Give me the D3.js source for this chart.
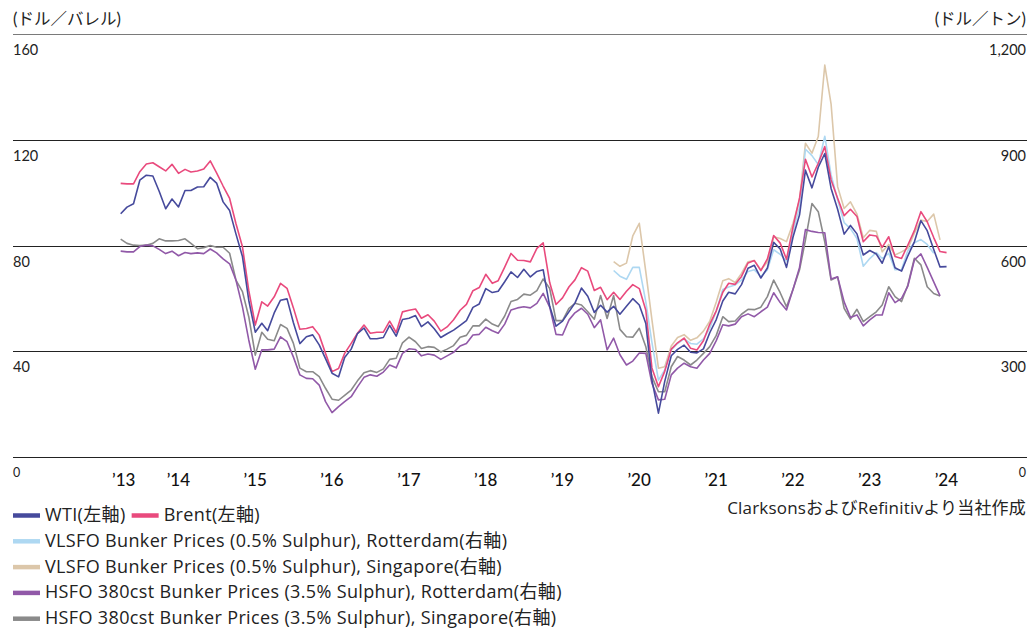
<!DOCTYPE html>
<html>
<head>
<meta charset="utf-8">
<script src="https://cdn.jsdelivr.net/npm/d3@7"></script>
<style>
  body { margin: 0; background: #fff; }
  svg text { font-family: Lato, "Noto Sans CJK JP", sans-serif; fill: #222; }
  svg text.wide { font-family: "Open Sans", "Noto Sans CJK JP", sans-serif; }
</style>
</head>
<body>
<svg id="chart" width="1029" height="630"></svg>
<script>
// Monthly averages. Crude oil in USD/barrel (left axis), bunker fuel in USD/tonne (right axis).
const oilStart = "2013-04";
const wti = [
  92.0, 94.5, 95.8, 104.7, 106.6, 106.3, 100.5, 93.9, 97.6,
  94.6, 100.8, 100.8, 102.1, 102.2, 105.8, 103.6, 96.5, 93.2, 84.4, 75.8, 59.3,
  47.2, 50.6, 47.8, 54.5, 59.3, 59.8, 50.9, 42.9, 45.5, 46.2, 42.4, 37.2,
  31.7, 30.3, 37.6, 40.8, 46.7, 48.8, 44.7, 44.7, 45.2, 49.8, 45.7, 52.0,
  52.5, 53.5, 49.3, 51.1, 48.5, 45.2, 46.6, 48.0, 49.8, 51.6, 56.6, 57.9,
  63.7, 62.2, 62.7, 66.3, 70.0, 67.9, 71.0, 68.1, 70.2, 70.8, 57.0, 49.5,
  51.4, 55.0, 58.2, 63.9, 60.8, 54.7, 57.4, 54.8, 57.0, 54.0, 57.0, 59.9,
  57.5, 50.5, 29.2, 16.6, 28.6, 38.3, 40.7, 42.3, 39.6, 39.4, 40.9, 47.0,
  52.0, 59.0, 62.3, 61.7, 65.2, 71.4, 72.5, 67.7, 71.5, 81.2, 78.7, 71.7,
  83.2, 91.6, 108.5, 101.8, 109.6, 114.8, 101.6, 93.7, 84.3, 87.6, 84.4, 76.4,
  78.1, 76.8, 73.3, 79.5, 71.6, 70.3, 76.1, 81.4, 89.4, 85.6, 78.5, 71.9,
  72.0
];
const brent = [
  103.5, 103.3, 103.3, 107.9, 110.8, 111.3, 109.8, 108.2, 110.7,
  107.3, 108.8, 107.8, 108.2, 108.9, 112.0, 107.5, 102.5, 97.8, 88.3, 79.5, 63.0,
  49.9, 58.7, 57.1, 60.6, 65.7, 63.8, 56.5, 48.3, 48.6, 49.3, 46.1, 39.2,
  32.3, 33.5, 39.2, 43.0, 46.8, 49.9, 46.8, 47.2, 47.2, 51.4, 47.1, 54.9,
  55.5, 56.0, 52.5, 53.8, 51.4, 47.6, 49.2, 51.9, 55.5, 57.7, 62.9, 64.1,
  69.1, 65.7, 66.7, 71.8, 77.0, 74.4, 74.3, 73.8, 78.9, 81.0, 66.0, 57.7,
  60.2, 64.4, 67.0, 71.6, 70.3, 63.0, 64.2, 59.5, 62.3, 59.6, 62.7, 65.2,
  63.7, 55.5, 33.7, 26.6, 32.4, 40.8, 43.2, 45.0, 41.1, 40.5, 44.0, 50.2,
  55.3, 62.3, 65.7, 65.3, 68.3, 73.4, 74.3, 70.5, 74.9, 83.8, 80.9, 74.8,
  87.1, 98.0, 112.6, 105.9, 111.1, 117.4, 104.8, 97.9, 91.3, 93.7, 91.0, 81.4,
  84.0, 83.6, 79.3, 83.3, 75.8, 75.1, 80.2, 85.6, 92.8, 89.0, 83.0, 77.7,
  77.3
];

const hsfoStart = "2013-04";
const hsfoRotterdam = [
  584, 582, 582, 597, 601, 599, 589, 577, 584,
  571, 580, 577, 579, 577, 590, 579, 562, 548, 502, 426, 332,
  249, 304, 304, 306, 341, 327, 284, 233, 223, 222, 204, 157,
  126, 143, 157, 171, 199, 226, 233, 229, 241, 261, 253, 294,
  307, 305, 287, 292, 289, 277, 287, 297, 315, 322, 346, 348,
  368, 358, 351, 377, 417, 423, 426, 423, 436, 464, 425, 348,
  346, 389, 409, 422, 405, 367, 389, 304, 337, 290, 261, 272,
  295, 294, 209, 162, 164, 233, 252, 266, 256, 252, 275, 294,
  330, 375, 372, 377, 398, 406, 398, 412, 425, 466, 438, 417,
  476, 538, 645, 640, 637, 636, 505, 511, 440, 396, 403, 372,
  389, 403, 403, 466, 438, 450, 485, 559, 576, 538, 497, 457
];
const hsfoSingapore = [
  618, 606, 601, 600, 601, 606, 619, 613, 613,
  614, 619, 606, 591, 594, 600, 595, 595, 578, 502, 469, 398,
  289, 354, 334, 330, 376, 365, 323, 252, 242, 242, 228, 195,
  164, 161, 175, 190, 216, 239, 245, 240, 250, 277, 280, 324,
  340, 327, 308, 313, 311, 298, 306, 316, 340, 345, 372, 372,
  391, 377, 370, 400, 441, 447, 462, 459, 472, 505, 478, 387,
  387, 422, 436, 431, 412, 391, 458, 393, 458, 362, 341, 340,
  365, 313, 228, 185, 185, 256, 285, 275, 261, 275, 294, 313,
  345, 398, 384, 386, 405, 419, 418, 425, 455, 502, 466, 426,
  475, 531, 615, 719, 696, 610, 502, 511, 422, 391, 419, 384,
  398, 412, 431, 483, 455, 441, 488, 564, 545, 483, 464, 457
];

const vlsfoStart = "2019-09";
const vlsfoRotterdam = [
  529, 513, 504, 538,
  538, 440, 325, 218, 247, 304, 322, 335, 322, 320, 335, 365,
  415, 475, 482, 488, 502, 526, 531, 512, 531, 588, 575, 556,
  640, 710, 873, 855, 830, 910, 800, 730, 665, 648, 620, 541,
  563, 580, 563, 578, 531, 532, 585, 608, 617, 603, 578
];
const vlsfoSingapore = [
  554, 541, 550, 627,
  663, 525, 390, 252, 256, 315, 339, 347, 331, 338, 357, 385,
  440, 500, 506, 495, 521, 554, 557, 531, 553, 625, 620, 611,
  663, 729, 890, 862, 909, 1112, 1001, 767, 705, 724, 689, 622,
  643, 640, 582, 603, 573, 582, 592, 635, 672, 668, 689, 616
];

const leftTicks = [0, 40, 80, 120, 160];
const rightTicks = [0, 300, 600, 900, 1200];
const yearTicks = ["2013", "2014", "2015", "2016", "2017", "2018", "2019", "2020", "2021", "2022", "2023", "2024"];

// Series definitions (order = drawing order, bottom first)
const series = [
  { name: "VLSFO Bunker Prices (0.5% Sulphur), Singapore(右軸)", start: vlsfoStart, values: vlsfoSingapore, axis: "right", color: "#dcc7aa" },
  { name: "VLSFO Bunker Prices (0.5% Sulphur), Rotterdam(右軸)", start: vlsfoStart, values: vlsfoRotterdam, axis: "right", color: "#aed8f2" },
  { name: "HSFO 380cst Bunker Prices (3.5% Sulphur), Singapore(右軸)", start: hsfoStart, values: hsfoSingapore, axis: "right", color: "#8a8a8a" },
  { name: "HSFO 380cst Bunker Prices (3.5% Sulphur), Rotterdam(右軸)", start: hsfoStart, values: hsfoRotterdam, axis: "right", color: "#9159a8" },
  { name: "Brent(左軸)", start: oilStart, values: brent, axis: "left", color: "#e94a7d" },
  { name: "WTI(左軸)", start: oilStart, values: wti, axis: "left", color: "#464a9c" }
];

const svg = d3.select("#chart");

const x = d3.scaleTime()
  .domain([new Date(2013, 0, 1), new Date(2024, 0, 1)])
  .range([98.6, 943.4]);
const yLeft = d3.scaleLinear().domain([0, 160]).range([457, 34]);
const yRight = d3.scaleLinear().domain([0, 1200]).range([457, 34]);

function monthly(start, values) {
  const [yy, mm] = start.split("-").map(Number);
  return values.map((v, i) => ({ date: new Date(yy, mm - 1 + i, 16), value: v }));
}

// Horizontal grid lines
const grid = svg.append("g");
leftTicks.forEach(t => {
  grid.append("line")
    .attr("x1", 13).attr("x2", 1027)
    .attr("y1", Math.round(yLeft(t)) + 0.5).attr("y2", Math.round(yLeft(t)) + 0.5)
    .attr("stroke", t === 160 ? "#7a7a7a" : "#222")
    .attr("stroke-width", 1);
});

// Axis titles
svg.append("text").attr("x", 13).attr("y", 25).attr("font-size", 16.5).text("(ドル／バレル)");
svg.append("text").attr("x", 1026).attr("y", 25).attr("font-size", 16.5).attr("text-anchor", "end").text("(ドル／トン)");

// Left / right tick labels
const fmtR = d3.format(",");
leftTicks.forEach(t => {
  const isZero = t === 0;
  svg.append("text")
    .attr("x", 13)
    .attr("y", isZero ? 477 : yLeft(t) + 21)
    .attr("font-size", isZero ? 12.5 : 14.5)
    .text(t);
});
rightTicks.forEach(t => {
  const isZero = t === 0;
  svg.append("text")
    .attr("x", 1026)
    .attr("y", isZero ? 477 : yRight(t) + 21)
    .attr("text-anchor", "end")
    .attr("font-size", isZero ? 12.5 : 14.5)
    .text(fmtR(t));
});

// Year labels
const firstDate = monthly(oilStart, [0])[0].date;
yearTicks.forEach((yr, i) => {
  const d = i === 0 ? firstDate : new Date(+yr, 0, 1);
  svg.append("text")
    .attr("x", x(d) + 3)
    .attr("y", 486)
    .attr("text-anchor", "middle")
    .attr("font-size", 17)
    .attr("font-weight", 500)
    .style("fill", "#111")
    .text("’" + yr.slice(2));
});

// Lines
series.forEach(s => {
  const y = s.axis === "left" ? yLeft : yRight;
  const line = d3.line().x(d => x(d.date)).y(d => y(d.value));
  svg.append("path")
    .datum(monthly(s.start, s.values))
    .attr("fill", "none")
    .attr("stroke", s.color)
    .attr("stroke-width", 1.6)
    .attr("stroke-linejoin", "round")
    .attr("d", line);
});

// Legend
const byName = Object.fromEntries(series.map(s => [s.name, s]));
const legendRows = [
  ["WTI(左軸)", "Brent(左軸)"],
  ["VLSFO Bunker Prices (0.5% Sulphur), Rotterdam(右軸)"],
  ["VLSFO Bunker Prices (0.5% Sulphur), Singapore(右軸)"],
  ["HSFO 380cst Bunker Prices (3.5% Sulphur), Rotterdam(右軸)"],
  ["HSFO 380cst Bunker Prices (3.5% Sulphur), Singapore(右軸)"]
];
const legend = svg.append("g");
legendRows.forEach((row, r) => {
  const base = 521 + r * 25.8;
  let cx = 13;
  row.forEach(name => {
    legend.append("line")
      .attr("x1", cx).attr("x2", cx + 27)
      .attr("y1", base - 5.5).attr("y2", base - 5.5)
      .attr("stroke", byName[name].color)
      .attr("stroke-width", 4.5);
    const t = legend.append("text")
      .attr("class", "wide")
      .attr("x", cx + 32).attr("y", base)
      .attr("font-size", 18)
      .attr("letter-spacing", 0.35)
      .text(name);
    cx += 32 + t.node().getComputedTextLength() + 6;
  });
});

// Source note
svg.append("text")
  .attr("class", "wide")
  .attr("x", 1026).attr("y", 514)
  .attr("text-anchor", "end")
  .attr("font-size", 17)
  .attr("letter-spacing", 0.2)
  .text("ClarksonsおよびRefinitivより当社作成");
</script>
</body>
</html>
